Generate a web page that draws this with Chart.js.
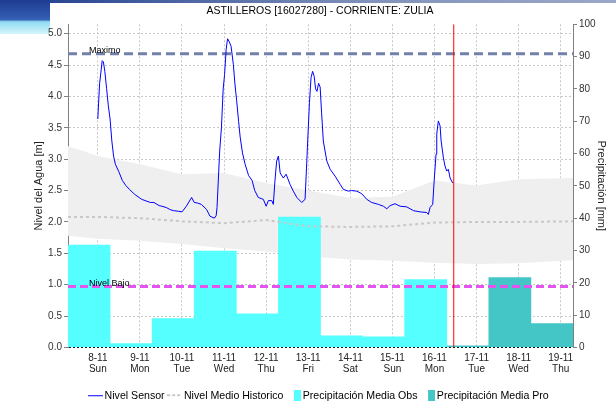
<!DOCTYPE html>
<html>
<head>
<meta charset="utf-8">
<script src="https://cdn.jsdelivr.net/npm/chart.js@4.4.1/dist/chart.umd.min.js"></script>
<style>
  body { margin: 0; background: #fff; }
  #wrap { position: relative; width: 616px; height: 404px; overflow: hidden; }
  #topband { position: absolute; left: 0; top: 0; width: 616px; height: 3px; background: linear-gradient(to right, #1b3a8c, #8192ba 60%, #9aa8c8); }
  #corner { position: absolute; left: 0; top: 0; width: 50px; height: 34px; background: linear-gradient(to bottom, #1d3b90 0%, #3561b5 58%, #8fdcf2 64%, #d6f5fc 100%); }
  canvas { position: absolute; left: 0; top: 0; }
</style>
</head>
<body>
<div id="wrap">
  <div id="topband"></div>
  <div id="corner"></div>
  <canvas id="mycanvas" width="616" height="404"></canvas>
</div>
<script>
// --- data ---
var chartTitle = 'ASTILLEROS [16027280] - CORRIENTE: ZULIA';
var dayLabels = ['8-11', '9-11', '10-11', '11-11', '12-11', '13-11', '14-11', '15-11', '16-11', '17-11', '18-11', '19-11'];
var weekDays = ['Sun', 'Mon', 'Tue', 'Wed', 'Thu', 'Fri', 'Sat', 'Sun', 'Mon', 'Tue', 'Wed', 'Thu'];

// daily rain (mm), each bar covers 07:00 of the day before to 07:00 of the day
var precipObs = [31.7, 1.2, 8.9, 29.8, 10.4, 40.3, 3.6, 3.3, 21.0, null, null, null];
var precipPro = [null, null, null, null, null, null, null, null, null, 0.5, 21.6, 7.4];

// sensor level (m), time in hours from 8-11 00:00
var sensorHour = [0, 1, 2.5, 3.2, 4, 5, 6, 7, 8, 9, 10, 12, 14, 16, 18, 21, 25, 28, 30, 32, 35, 36.5, 39, 41, 43, 46, 48,
  50.5, 53.5, 55, 57, 59, 62, 64, 66.5, 67.5, 68, 68.7, 69.5, 70.5, 71.5, 72.3, 73.2, 74, 75, 76, 77.3, 78.2, 79.2, 80.3,
  81.2, 82.5, 84, 86, 88, 89.5, 91.5, 94.4, 96, 97.3, 99.2, 100.1, 101, 102, 103, 104, 105.8, 107.4, 109.6, 111.5, 113.5,
  116.3, 118.2, 119.2, 119.7, 120.7, 121.6, 122.5, 123.4, 124.2, 125, 125.9, 126.8, 127.6, 128.6, 130.6, 132.5, 135.3,
  138.2, 140, 142.9, 144.8, 147.7, 150.5, 153.4, 156.2, 160, 162.9, 164.8, 166.7, 169.5, 172.4, 176.2, 180, 183.8, 187.6,
  188.5, 189.5, 191, 191.8, 192.9, 193.3, 194.2, 195.2, 195.8, 197.1, 198, 199, 199.9, 200.9, 202.4];
var sensorLevel = [3.64, 4.2, 4.57, 4.55, 4.40, 4.13, 3.85, 3.64, 3.29, 3.05, 2.92, 2.80, 2.66, 2.58, 2.52, 2.44, 2.36, 2.33, 2.31, 2.31, 2.26, 2.25, 2.23, 2.20, 2.18, 2.17, 2.16,
  2.25, 2.39, 2.31, 2.30, 2.28, 2.20, 2.09, 2.06, 2.10, 2.23, 2.65, 3.13, 3.50, 4.12, 4.35, 4.75, 4.92, 4.87, 4.80, 4.51, 4.20, 3.93, 3.60,
  3.35, 3.10, 2.92, 2.74, 2.66, 2.50, 2.39, 2.36, 2.25, 2.34, 2.34, 2.28, 2.65, 2.97, 3.05, 2.78, 2.70, 2.76, 2.60, 2.49, 2.39,
  2.31, 2.36, 2.97, 3.29, 3.90, 4.30, 4.40, 4.32, 4.12, 4.08, 4.21, 4.15, 3.75, 3.29, 2.97, 2.84, 2.73,
  2.60, 2.52, 2.49, 2.50, 2.49, 2.45, 2.36, 2.31, 2.28, 2.25, 2.21, 2.26, 2.29, 2.25, 2.24, 2.18, 2.16, 2.15,
  2.12, 2.23, 2.28, 2.65, 3.08, 3.40, 3.61, 3.53, 3.29, 3.02, 2.89, 2.81, 2.84, 2.70, 2.62];

// historic band and mean (m)
var histHour = [-17, 0, 24, 48, 72, 96, 120, 144, 168, 192, 216, 240, 271];
var histMax = [3.21, 3.05, 2.92, 2.76, 2.78, 2.62, 2.50, 2.38, 2.40, 2.66, 2.58, 2.68, 2.70];
var histMean = [2.08, 2.08, 2.06, 2.01, 1.98, 2.03, 1.93, 1.92, 1.93, 1.99, 2.00, 2.00, 2.01];
var histMin = [1.78, 1.73, 1.70, 1.65, 1.58, 1.53, 1.45, 1.40, 1.38, 1.35, 1.33, 1.34, 1.39];

var levelMax = 4.68;
var levelLow = 0.97;
var nowHour = 203;

var hourMin = -17, hourMax = 271;
var levelAxisMax = 5.15;

var colObs = '#55ffff';
var colPro = '#45c6c6';
var fontFam = "'Liberation Sans', Arial, sans-serif";

function pts(xs, ys) {
  var out = [];
  for (var i in xs) out.push({x: xs[i], y: ys[i]});
  return out;
}
function dailyBars(vals) {
  var out = [];
  for (var i in vals) {
    if (vals[i] !== null) out.push({x: i * 24 - 5, y: vals[i]});
  }
  return out;
}
function glyph(draw) {
  var c = document.createElement('canvas');
  c.width = 15; c.height = 11;
  draw(c.getContext('2d'));
  return c;
}
var legendGlyphs = [
  glyph(function(g){ g.fillStyle = '#0000ff'; g.fillRect(0, 5, 15, 1); }),
  glyph(function(g){ g.fillStyle = '#c8c8c8'; for (var k = 0; k < 15; k += 5) g.fillRect(k, 4, 3, 2); }),
  glyph(function(g){ g.fillStyle = colObs; g.fillRect(8, 0, 7, 11); }),
  glyph(function(g){ g.fillStyle = colPro; g.fillRect(8, 0, 7, 11); })
];

Chart.defaults.font.family = fontFam;
Chart.defaults.font.size = 10;
Chart.defaults.color = '#333';

var refLabels = {
  id: 'refLabels',
  afterDatasetsDraw: function(chart) {
    var ctx = chart.ctx, y = chart.scales.y, left = chart.chartArea.left;
    ctx.save();
    ctx.font = '9px ' + fontFam;
    ctx.fillStyle = '#000';
    ctx.textBaseline = 'alphabetic';
    ctx.fillText('Maximo', left + 21, y.getPixelForValue(levelMax) - 1);
    ctx.fillText('Nivel Bajo', left + 21, y.getPixelForValue(levelLow) - 1);
    ctx.restore();
  }
};

var ctx = document.getElementById('mycanvas');
var chart = new Chart(ctx, {
  type: 'line',
  data: {
    datasets: [
      {
        label: 'Nivel Sensor', data: pts(sensorHour, sensorLevel), yAxisID: 'y',
        borderColor: '#0000ff', borderWidth: 1, pointRadius: 0, tension: 0, order: 1
      },
      {
        label: 'Nivel Medio Historico', data: pts(histHour, histMean), yAxisID: 'y',
        borderColor: '#c8c8c8', borderWidth: 2, borderDash: [3, 3], pointRadius: 0, order: 3
      },
      {
        type: 'bar', label: 'Precipitación Media Obs', data: dailyBars(precipObs), yAxisID: 'y2',
        backgroundColor: colObs, borderWidth: 0, grouped: false, barPercentage: 1, categoryPercentage: 1, order: 6
      },
      {
        type: 'bar', label: 'Precipitación Media Pro', data: dailyBars(precipPro), yAxisID: 'y2',
        backgroundColor: colPro, borderWidth: 0, grouped: false, barPercentage: 1, categoryPercentage: 1, order: 6
      },
      {
        label: 'hist max', data: pts(histHour, histMax), yAxisID: 'y',
        borderWidth: 0, pointRadius: 0, backgroundColor: '#efefef', fill: '+1', order: 8
      },
      {
        label: 'hist min', data: pts(histHour, histMin), yAxisID: 'y',
        borderWidth: 0, pointRadius: 0, fill: false, order: 8
      },
      {
        label: 'Maximo', data: pts([hourMin, hourMax], [levelMax, levelMax]), yAxisID: 'y',
        borderColor: '#7281ab', borderWidth: 3, borderDash: [9, 5], pointRadius: 0, order: 2
      },
      {
        label: 'Nivel Bajo', data: pts([hourMin, hourMax], [levelLow, levelLow]), yAxisID: 'y',
        borderColor: '#e455f0', borderWidth: 3, borderDash: [8, 4], pointRadius: 0, order: 2
      },
      {
        label: 'ahora', data: pts([nowHour, nowHour], [0, 100]), yAxisID: 'y2',
        borderColor: '#ff0000', borderWidth: 1, pointRadius: 0, order: 0
      }
    ]
  },
  options: {
    responsive: false,
    animation: false,
    events: [],
    layout: { padding: { top: 0, left: 24, right: 0, bottom: -7 } },
    scales: {
      x: {
        type: 'linear', min: hourMin, max: hourMax, offset: false,
        afterBuildTicks: function(scale) {
          scale.ticks = dayLabels.map(function(d, i) { return {value: i * 24}; });
        },
        afterFit: function(scale) { scale.height = 37; },
        ticks: {
          autoSkip: false, maxRotation: 0, padding: 5, color: '#222',
          font: { size: 10, lineHeight: 1.1 },
          callback: function(v) { var i = Math.round(v / 24); return [dayLabels[i], weekDays[i]]; }
        },
        grid: { offset: false, color: '#c8c8c8', lineWidth: 1, drawTicks: false },
        border: { display: false, dash: [2, 2] }
      },
      y: {
        type: 'linear', position: 'left', min: 0, max: levelAxisMax,
        afterFit: function(scale) { scale.width = 44; },
        ticks: { stepSize: 0.5, includeBounds: false, padding: 2, callback: function(v) { return v.toFixed(1); } },
        grid: {
          color: function(c) { return c.tick && c.tick.value === 0 ? '#000' : '#c8c8c8'; },
          tickColor: '#808080', tickLength: 4, tickBorderDash: []
        },
        border: { display: true, color: '#808080', dash: [2, 2] },
        title: { display: true, text: 'Nivel del Agua [m]', color: '#222', font: { size: 11 }, padding: { top: 8, bottom: 0 } }
      },
      y2: {
        type: 'linear', position: 'right', min: 0, max: 100,
        afterFit: function(scale) { scale.width = 43; },
        ticks: { stepSize: 10, padding: 2 },
        grid: { drawOnChartArea: false, tickColor: '#808080', tickLength: 4 },
        border: { display: true, color: '#808080' },
        title: { display: true, text: 'Precipitación [mm]', color: '#222', font: { size: 11 }, padding: { top: 8, bottom: 0 } }
      }
    },
    plugins: {
      title: {
        display: true, text: chartTitle, color: '#000',
        font: { size: 10.5, weight: 'normal' }, padding: { top: 4.5, bottom: 7.2 }
      },
      legend: {
        position: 'bottom',
        labels: {
          usePointStyle: true, pointStyleWidth: 8, padding: 6, color: '#000',
          font: { size: 10.6 },
          generateLabels: function(chart) {
            var items = Chart.defaults.plugins.legend.labels.generateLabels(chart);
            return items.filter(function(it) { return it.datasetIndex < 4; }).map(function(it) {
              it.pointStyle = legendGlyphs[it.datasetIndex];
              return it;
            });
          }
        }
      },
      tooltip: { enabled: false }
    }
  },
  plugins: [refLabels]
});
</script>
</body>
</html>
